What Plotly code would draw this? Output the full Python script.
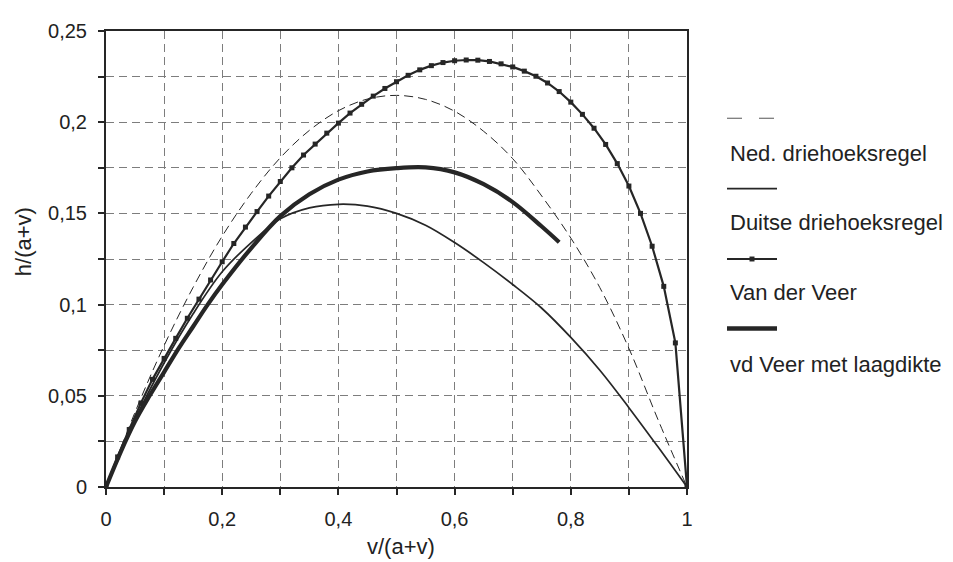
import plotly.graph_objects as go

# ---------------- data ----------------
ned_x = [0, 0.05, 0.1, 0.15, 0.2, 0.25, 0.3, 0.35, 0.4, 0.45, 0.5,
         0.55, 0.6, 0.65, 0.7, 0.75, 0.8, 0.85, 0.9, 0.95, 1.0]
ned_y = [0, 0.041, 0.0775, 0.1095, 0.1375, 0.161, 0.1805, 0.1955, 0.2063, 0.2127, 0.2147,
         0.2125, 0.206, 0.195, 0.180, 0.1595, 0.1365, 0.1093, 0.0760, 0.037, 0]

duits_x = [0, 0.05, 0.1, 0.15, 0.2, 0.25, 0.3, 0.35, 0.4, 0.45, 0.5,
           0.55, 0.6, 0.65, 0.7, 0.75, 0.8, 0.85, 0.9, 0.95, 1.0]
duits_y = [0, 0.037, 0.068, 0.095, 0.118, 0.134, 0.147, 0.153, 0.155, 0.154, 0.150,
           0.1435, 0.134, 0.123, 0.111, 0.098, 0.082, 0.064, 0.0435, 0.022, 0]

vdv_x = [0, 0.02, 0.04, 0.06, 0.08, 0.1, 0.12, 0.14, 0.16, 0.18, 0.2,
         0.22, 0.24, 0.26, 0.28, 0.3, 0.32, 0.34, 0.36, 0.38, 0.4,
         0.42, 0.44, 0.46, 0.48, 0.5, 0.52, 0.54, 0.56, 0.58, 0.6,
         0.62, 0.64, 0.66, 0.68, 0.7, 0.72, 0.74, 0.76, 0.78, 0.8,
         0.82, 0.84, 0.86, 0.88, 0.9, 0.92, 0.94, 0.96, 0.98, 1.0]
vdv_y = [0, 0.0165, 0.0315, 0.046, 0.059, 0.0705, 0.0815, 0.0925, 0.103, 0.1135, 0.1235,
         0.1335, 0.1425, 0.151, 0.1595, 0.1675, 0.175, 0.182, 0.188, 0.194, 0.1995,
         0.205, 0.2098, 0.2143, 0.2185, 0.2222, 0.2257, 0.2287, 0.2310, 0.2327, 0.2337,
         0.2341, 0.2340, 0.2333, 0.2320, 0.2303, 0.2280, 0.2252, 0.2215, 0.2168, 0.2110,
         0.2043, 0.1967, 0.1878, 0.1773, 0.1650, 0.1500, 0.1320, 0.1100, 0.0790, 0]

laag_x = [0, 0.025, 0.05, 0.075, 0.1, 0.125, 0.15, 0.175, 0.2, 0.25, 0.3,
          0.35, 0.4, 0.45, 0.5, 0.55, 0.6, 0.65, 0.7, 0.75, 0.78]
laag_y = [0, 0.019, 0.036, 0.050, 0.063, 0.076, 0.088, 0.100, 0.111, 0.131, 0.1485,
          0.1605, 0.1685, 0.1730, 0.1748, 0.1752, 0.1725, 0.1660, 0.1562, 0.1428, 0.1342]

series_names = ["Ned. driehoeksregel", "Duitse driehoeksregel",
                "Van der Veer", "vd Veer met laagdikte"]

x_tickvals = [0, 0.1, 0.2, 0.3, 0.4, 0.5, 0.6, 0.7, 0.8, 0.9, 1.0]
x_ticktext = ["0", "", "0,2", "", "0,4", "", "0,6", "", "0,8", "", "1"]
y_tickvals = [0, 0.025, 0.05, 0.075, 0.1, 0.125, 0.15, 0.175, 0.2, 0.225, 0.25]
y_ticktext = ["0", "", "0,05", "", "0,1", "", "0,15", "", "0,2", "", "0,25"]

# ---------------- style ----------------
INK = "#262626"
GRID = "#7d7d7d"
FONT = "Liberation Sans, Arial, sans-serif"
OFF = 8                      # page body margin
WIN_W, WIN_H = 953, 562
W, H = WIN_W - OFF, WIN_H - OFF
L, R, T, B = 106, 687, 27, 487  # plot area in window pixels


def px2paper_x(px):
    return (px - L) / (R - L)


def px2paper_y(py):
    return (B - py) / (B - T)


fig = go.Figure()
fig.add_trace(go.Scatter(x=ned_x, y=ned_y, mode="lines", name=series_names[0],
                         line=dict(color=INK, width=1, dash="9px,5px", shape="spline", smoothing=1.0)))
fig.add_trace(go.Scatter(x=duits_x, y=duits_y, mode="lines", name=series_names[1],
                         line=dict(color=INK, width=1.7, shape="spline", smoothing=1.0)))
fig.add_trace(go.Scatter(x=vdv_x, y=vdv_y, mode="lines+markers", name=series_names[2],
                         line=dict(color=INK, width=2.2),
                         marker=dict(symbol="square", size=5, color=INK)))
fig.add_trace(go.Scatter(x=laag_x, y=laag_y, mode="lines", name=series_names[3],
                         line=dict(color=INK, width=4.2, shape="spline", smoothing=1.0)))

# custom legend: sample line above the text
shapes = []
annotations = []
leg_x0, leg_x1 = 727, 777
sample_y = [115, 186, 257, 327]
text_y = [151, 220, 291, 363]
shapes.append(dict(type="line", xref="paper", yref="paper",
                   x0=px2paper_x(leg_x0), x1=px2paper_x(leg_x1),
                   y0=px2paper_y(sample_y[0]), y1=px2paper_y(sample_y[0]),
                   line=dict(color="#555", width=1, dash="15px,17px")))
shapes.append(dict(type="line", xref="paper", yref="paper",
                   x0=px2paper_x(leg_x0), x1=px2paper_x(leg_x1),
                   y0=px2paper_y(sample_y[1]), y1=px2paper_y(sample_y[1]),
                   line=dict(color=INK, width=1.7)))
shapes.append(dict(type="line", xref="paper", yref="paper",
                   x0=px2paper_x(leg_x0), x1=px2paper_x(leg_x1),
                   y0=px2paper_y(sample_y[2]), y1=px2paper_y(sample_y[2]),
                   line=dict(color=INK, width=2)))
shapes.append(dict(type="rect", xref="paper", yref="paper",
                   x0=px2paper_x(749.5), x1=px2paper_x(754.5),
                   y0=px2paper_y(sample_y[2] + 2.5), y1=px2paper_y(sample_y[2] - 2.5),
                   line=dict(width=0), fillcolor=INK))
shapes.append(dict(type="line", xref="paper", yref="paper",
                   x0=px2paper_x(leg_x0), x1=px2paper_x(leg_x1),
                   y0=px2paper_y(sample_y[3]), y1=px2paper_y(sample_y[3]),
                   line=dict(color=INK, width=4.5)))
for name, ty in zip(series_names, text_y):
    annotations.append(dict(text=name, xref="paper", yref="paper",
                            x=px2paper_x(728), y=px2paper_y(ty),
                            xanchor="left", yanchor="middle", showarrow=False,
                            font=dict(family=FONT, size=22, color="#222")))

# axis titles
annotations.append(dict(text="v/(a+v)", xref="paper", yref="paper",
                        x=px2paper_x(401), y=px2paper_y(547),
                        xanchor="center", yanchor="middle", showarrow=False,
                        font=dict(family=FONT, size=22, color="#222")))
annotations.append(dict(text="h/(a+v)", xref="paper", yref="paper",
                        x=px2paper_x(23), y=px2paper_y(240),
                        xanchor="center", yanchor="middle", showarrow=False, textangle=-90,
                        font=dict(family=FONT, size=22, color="#222")))

axis_common = dict(showline=True, linecolor=INK, linewidth=2, mirror=True,
                   ticks="outside", ticklen=6, tickwidth=1.5, tickcolor=INK,
                   showgrid=True, gridcolor=GRID, gridwidth=1, griddash="8px,5px",
                   zeroline=False, tickfont=dict(family=FONT, size=20, color="#222"))

fig.update_layout(
    width=W, height=H, autosize=False,
    margin=dict(l=L - OFF, r=WIN_W - R, t=T - OFF, b=WIN_H - B, pad=0),
    paper_bgcolor="white", plot_bgcolor="white",
    showlegend=False,
    shapes=shapes, annotations=annotations,
    xaxis=dict(range=[0, 1], tickmode="array", tickvals=x_tickvals, ticktext=x_ticktext,
               ticklabelstandoff=7, **axis_common),
    yaxis=dict(range=[0, 0.25], tickmode="array", tickvals=y_tickvals, ticktext=y_ticktext,
               ticklabelstandoff=7, **axis_common),
)

fig.write_html("out.html")
